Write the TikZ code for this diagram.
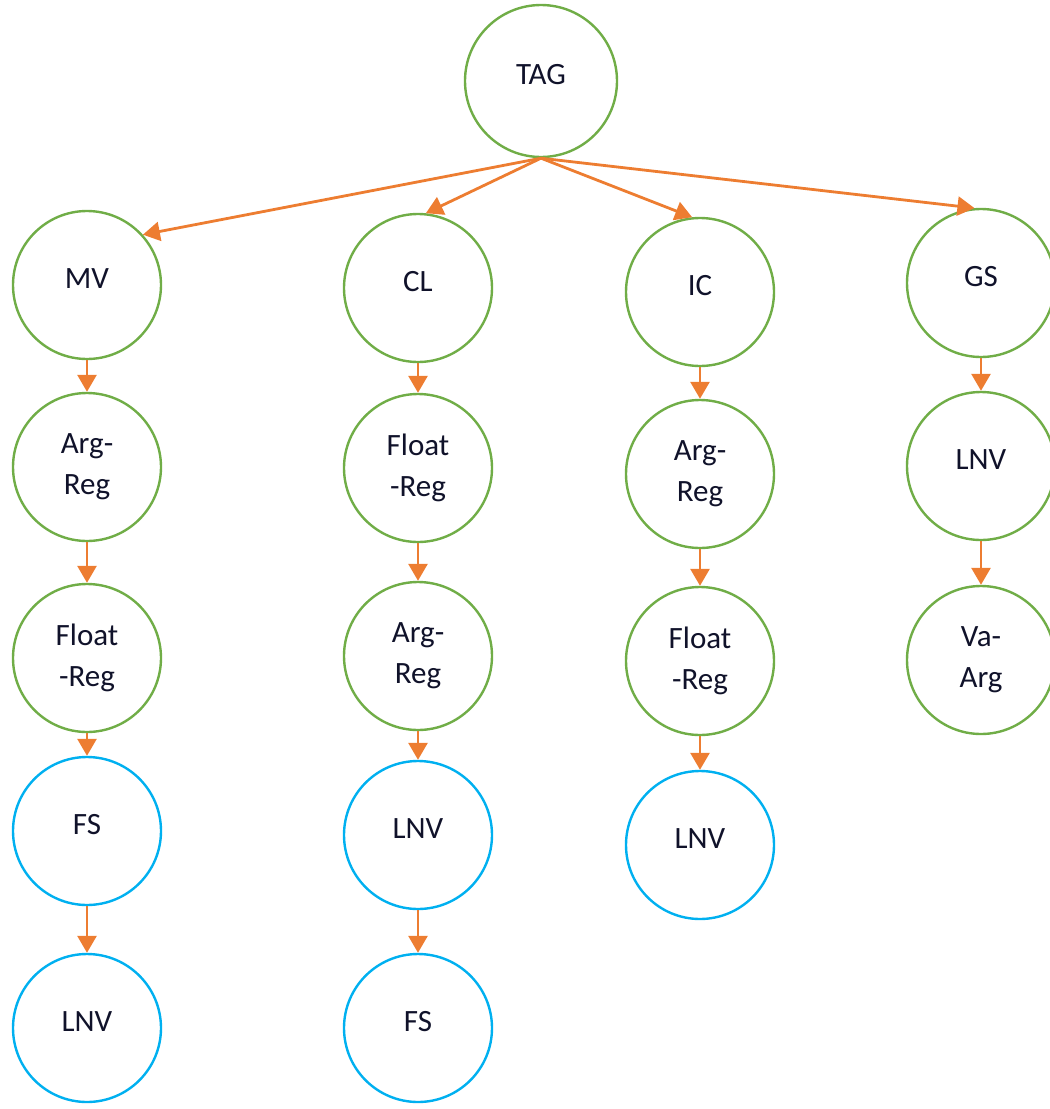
\documentclass[tikz,border=0pt]{standalone}
\usepackage{fontspec}
\setmainfont{Carlito}
\usetikzlibrary{arrows.meta}
\definecolor{ogreen}{HTML}{70AD47}
\definecolor{oblue}{HTML}{00B0F0}
\definecolor{oorange}{HTML}{ED7D31}
\definecolor{otext}{HTML}{10122A}
\newcommand{\upl}[1]{\raisebox{13pt}{#1}}
\begin{document}
\begin{tikzpicture}[x=1pt,y=-1pt,
  nd/.style={circle, draw, line width=2.4pt, minimum size=148pt, inner sep=0pt, align=center,
    font=\fontsize{31}{41}\selectfont, text=otext},
  gn/.style={nd, draw=ogreen},
  bn/.style={nd, draw=oblue},
  arr/.style={draw=oorange, line width=2.8pt, -{Triangle[length=17pt,width=19pt]}, fill=oorange}]
\useasboundingbox (0,0) rectangle (1050,1109);
% root
\node[gn, minimum size=152pt] (tag) at (541,81) {\upl{TAG}};
% column 1
\node[gn] (mv)  at (87,285) {\upl{MV}};
\node[gn] (c1a) at (87,467) {Arg-\\Reg};
\node[gn] (c1b) at (87,658) {Float\\-Reg};
\node[bn] (c1c) at (87,831) {\upl{FS}};
\node[bn] (c1d) at (87,1028) {\upl{LNV}};
% column 2
\node[gn] (cl)  at (418,288) {\upl{CL}};
\node[gn] (c2a) at (418,468) {Float\\-Reg};
\node[gn] (c2b) at (418,656) {Arg-\\Reg};
\node[bn] (c2c) at (418,835) {\upl{LNV}};
\node[bn] (c2d) at (418,1028) {\upl{FS}};
% column 3
\node[gn] (ic)  at (700,292) {\upl{IC}};
\node[gn] (c3a) at (700,474) {Arg-\\Reg};
\node[gn] (c3b) at (700,661) {Float\\-Reg};
\node[bn] (c3c) at (700,845) {\upl{LNV}};
% column 4
\node[gn] (gs)  at (981,283) {\upl{GS}};
\node[gn] (c4a) at (981,466) {\upl{LNV}};
\node[gn] (c4b) at (981,660) {Va-\\Arg};
% top connectors
\draw[arr] (tag.south) -- (mv.42);
\draw[arr] (tag.south) -- (cl.84);
\draw[arr] (tag.south) -- (ic.96);
\draw[arr] (tag.south) -- (gs.95);
% column connectors
\draw[arr] (mv.south) -- (c1a.north);
\draw[arr] (c1a.south) -- (c1b.north);
\draw[arr] (c1b.south) -- (c1c.north);
\draw[arr] (c1c.south) -- (c1d.north);
\draw[arr] (cl.south) -- (c2a.north);
\draw[arr] (c2a.south) -- (c2b.north);
\draw[arr] (c2b.south) -- (c2c.north);
\draw[arr] (c2c.south) -- (c2d.north);
\draw[arr] (ic.south) -- (c3a.north);
\draw[arr] (c3a.south) -- (c3b.north);
\draw[arr] (c3b.south) -- (c3c.north);
\draw[arr] (gs.south) -- (c4a.north);
\draw[arr] (c4a.south) -- (c4b.north);
\end{tikzpicture}
\end{document}
